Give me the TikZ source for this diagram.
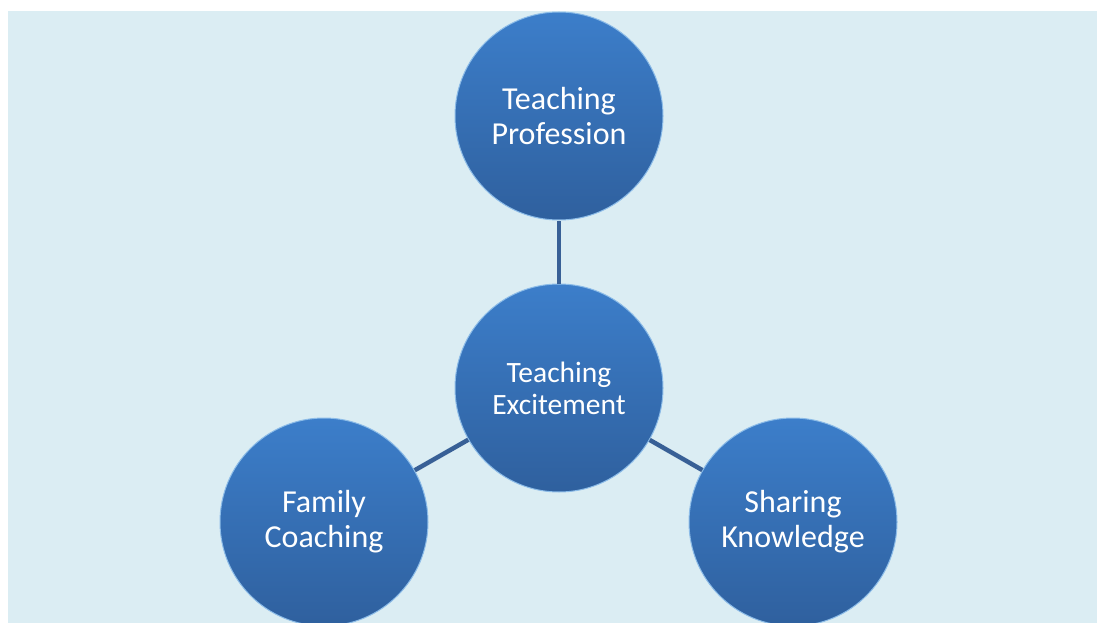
\documentclass[tikz,border=0pt]{standalone}
\usepackage{fontspec}
\setmainfont{Carlito}
\usetikzlibrary{positioning}
\definecolor{bgblue}{RGB}{219,237,243}
\definecolor{ballTop}{RGB}{60,126,202}
\definecolor{ballBot}{RGB}{47,96,158}
\definecolor{rimblue}{RGB}{140,188,232}
\definecolor{linkblue}{RGB}{56,96,150}
\tikzset{
  ball/.style={circle,minimum size=208pt,inner sep=0pt,
    top color=ballTop,bottom color=ballBot,
    draw=rimblue,line width=1pt,
    text=white,align=center},
  bigtext/.style={font=\fontsize{32}{35}\selectfont},
  smalltext/.style={font=\fontsize{29.5}{32}\selectfont},
  link/.style={draw=linkblue,line width=4.5pt}
}
\begin{document}
\begin{tikzpicture}[x=1pt,y=-1pt]
  % canvas
  \useasboundingbox (0,0) rectangle (1097,623);
  \fill[bgblue] (8,11) rectangle (1097,623);
  % balls
  \node[ball,smalltext] (excite) at (559,388) {Teaching\\Excitement};
  \node[ball,bigtext] (prof) at (559,116) {Teaching\\Profession};
  \node[ball,bigtext] (family) at (324,522) {Family\\Coaching};
  \node[ball,bigtext] (share) at (793,522) {Sharing\\Knowledge};
  % links
  \draw[link] (excite) -- (prof);
  \draw[link] (excite) -- (family);
  \draw[link] (excite) -- (share);
\end{tikzpicture}
\end{document}
